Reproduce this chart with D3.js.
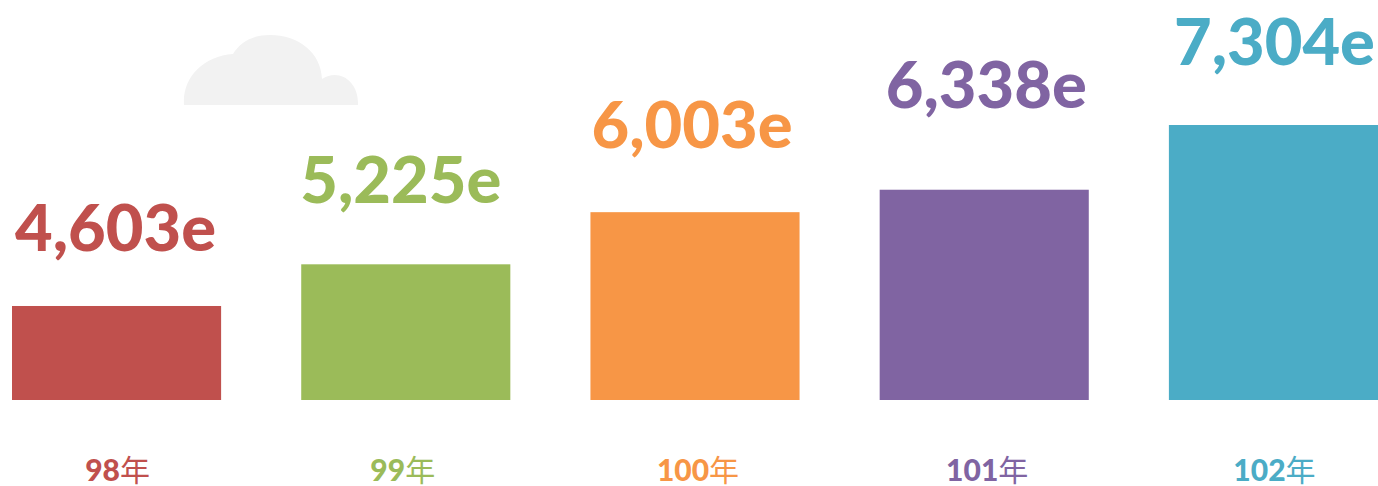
<!DOCTYPE html>
<html lang="zh-Hant">
  <head>
    <meta charset="UTF-8" />
    <title>chart</title>
    <style>
      html, body { margin: 0; padding: 0; background: #fff; overflow: hidden; }
      text { font-family: Lato, "Noto Sans CJK TC", sans-serif; font-weight: 900; }
      tspan.unit { font-weight: 400; }
    </style>
  </head>
  <body>
    <div id="chart"></div>
    <script src="https://d3js.org/d3.v7.min.js"></script>
    <script>
      const years = ["98", "99", "100", "101", "102"];
      const values = [4603, 5225, 6003, 6338, 7304];
      const valueLabels = ["4,603e", "5,225e", "6,003e", "6,338e", "7,304e"];
      const colors = ["#c0504d", "#9bbb59", "#f79646", "#8064a2", "#4bacc6"];

      var width = 1378, height = 486, baseline = 400;
      // the labels are placed by hand in the original, not evenly
      var labelGap = [55, 61, 64, 82, 60];
      var labelShift = [-1, -5, -3, 2, 1];
      var yearShift = [1, -3, 3, 3, 1];

      var svg = d3.select("#chart").append("svg")
        .attr("width", width)
        .attr("height", height);

      // cloud in the background
      var cloud = d3.path();
      cloud.moveTo(184, 105);
      cloud.bezierCurveTo(182, 78, 203, 56, 233, 54);
      cloud.bezierCurveTo(241, 41, 254, 35, 270, 35);
      cloud.bezierCurveTo(298, 35, 321, 52, 322, 79);
      cloud.bezierCurveTo(339, 68, 359, 81, 358, 105);
      cloud.closePath();
      svg.append("path").attr("d", cloud.toString()).attr("fill", "#f2f2f2");

      var x = d3.scaleBand().domain(years).range([12, 1378]).paddingInner(0.277);

      // axis does not start at zero in the original
      var y = d3.scaleLinear().domain([3200, 7304]).range([baseline, 125]);

      svg.selectAll("rect.bar")
        .data(values)
        .enter()
        .append("rect")
        .attr("class", "bar")
        .attr("x", (d, i) => x(years[i]))
        .attr("y", d => y(d))
        .attr("width", x.bandwidth())
        .attr("height", d => baseline - y(d))
        .attr("fill", (d, i) => colors[i]);

      svg.selectAll("text.value")
        .data(values)
        .enter()
        .append("text")
        .attr("class", "value")
        .attr("x", (d, i) => x(years[i]) + x.bandwidth() / 2 + labelShift[i])
        .attr("y", (d, i) => y(d) - labelGap[i])
        .attr("text-anchor", "middle")
        .attr("font-size", 65)
        .attr("fill", (d, i) => colors[i])
        .text((d, i) => valueLabels[i]);

      var yearText = svg.selectAll("text.year")
        .data(years)
        .enter()
        .append("text")
        .attr("class", "year")
        .attr("x", (d, i) => x(d) + x.bandwidth() / 2 + yearShift[i])
        .attr("y", 481)
        .attr("text-anchor", "middle")
        .attr("font-size", 30)
        .attr("fill", (d, i) => colors[i])
        .text(d => d);
      yearText.append("tspan").attr("class", "unit").text("年");
    </script>
  </body>
</html>
